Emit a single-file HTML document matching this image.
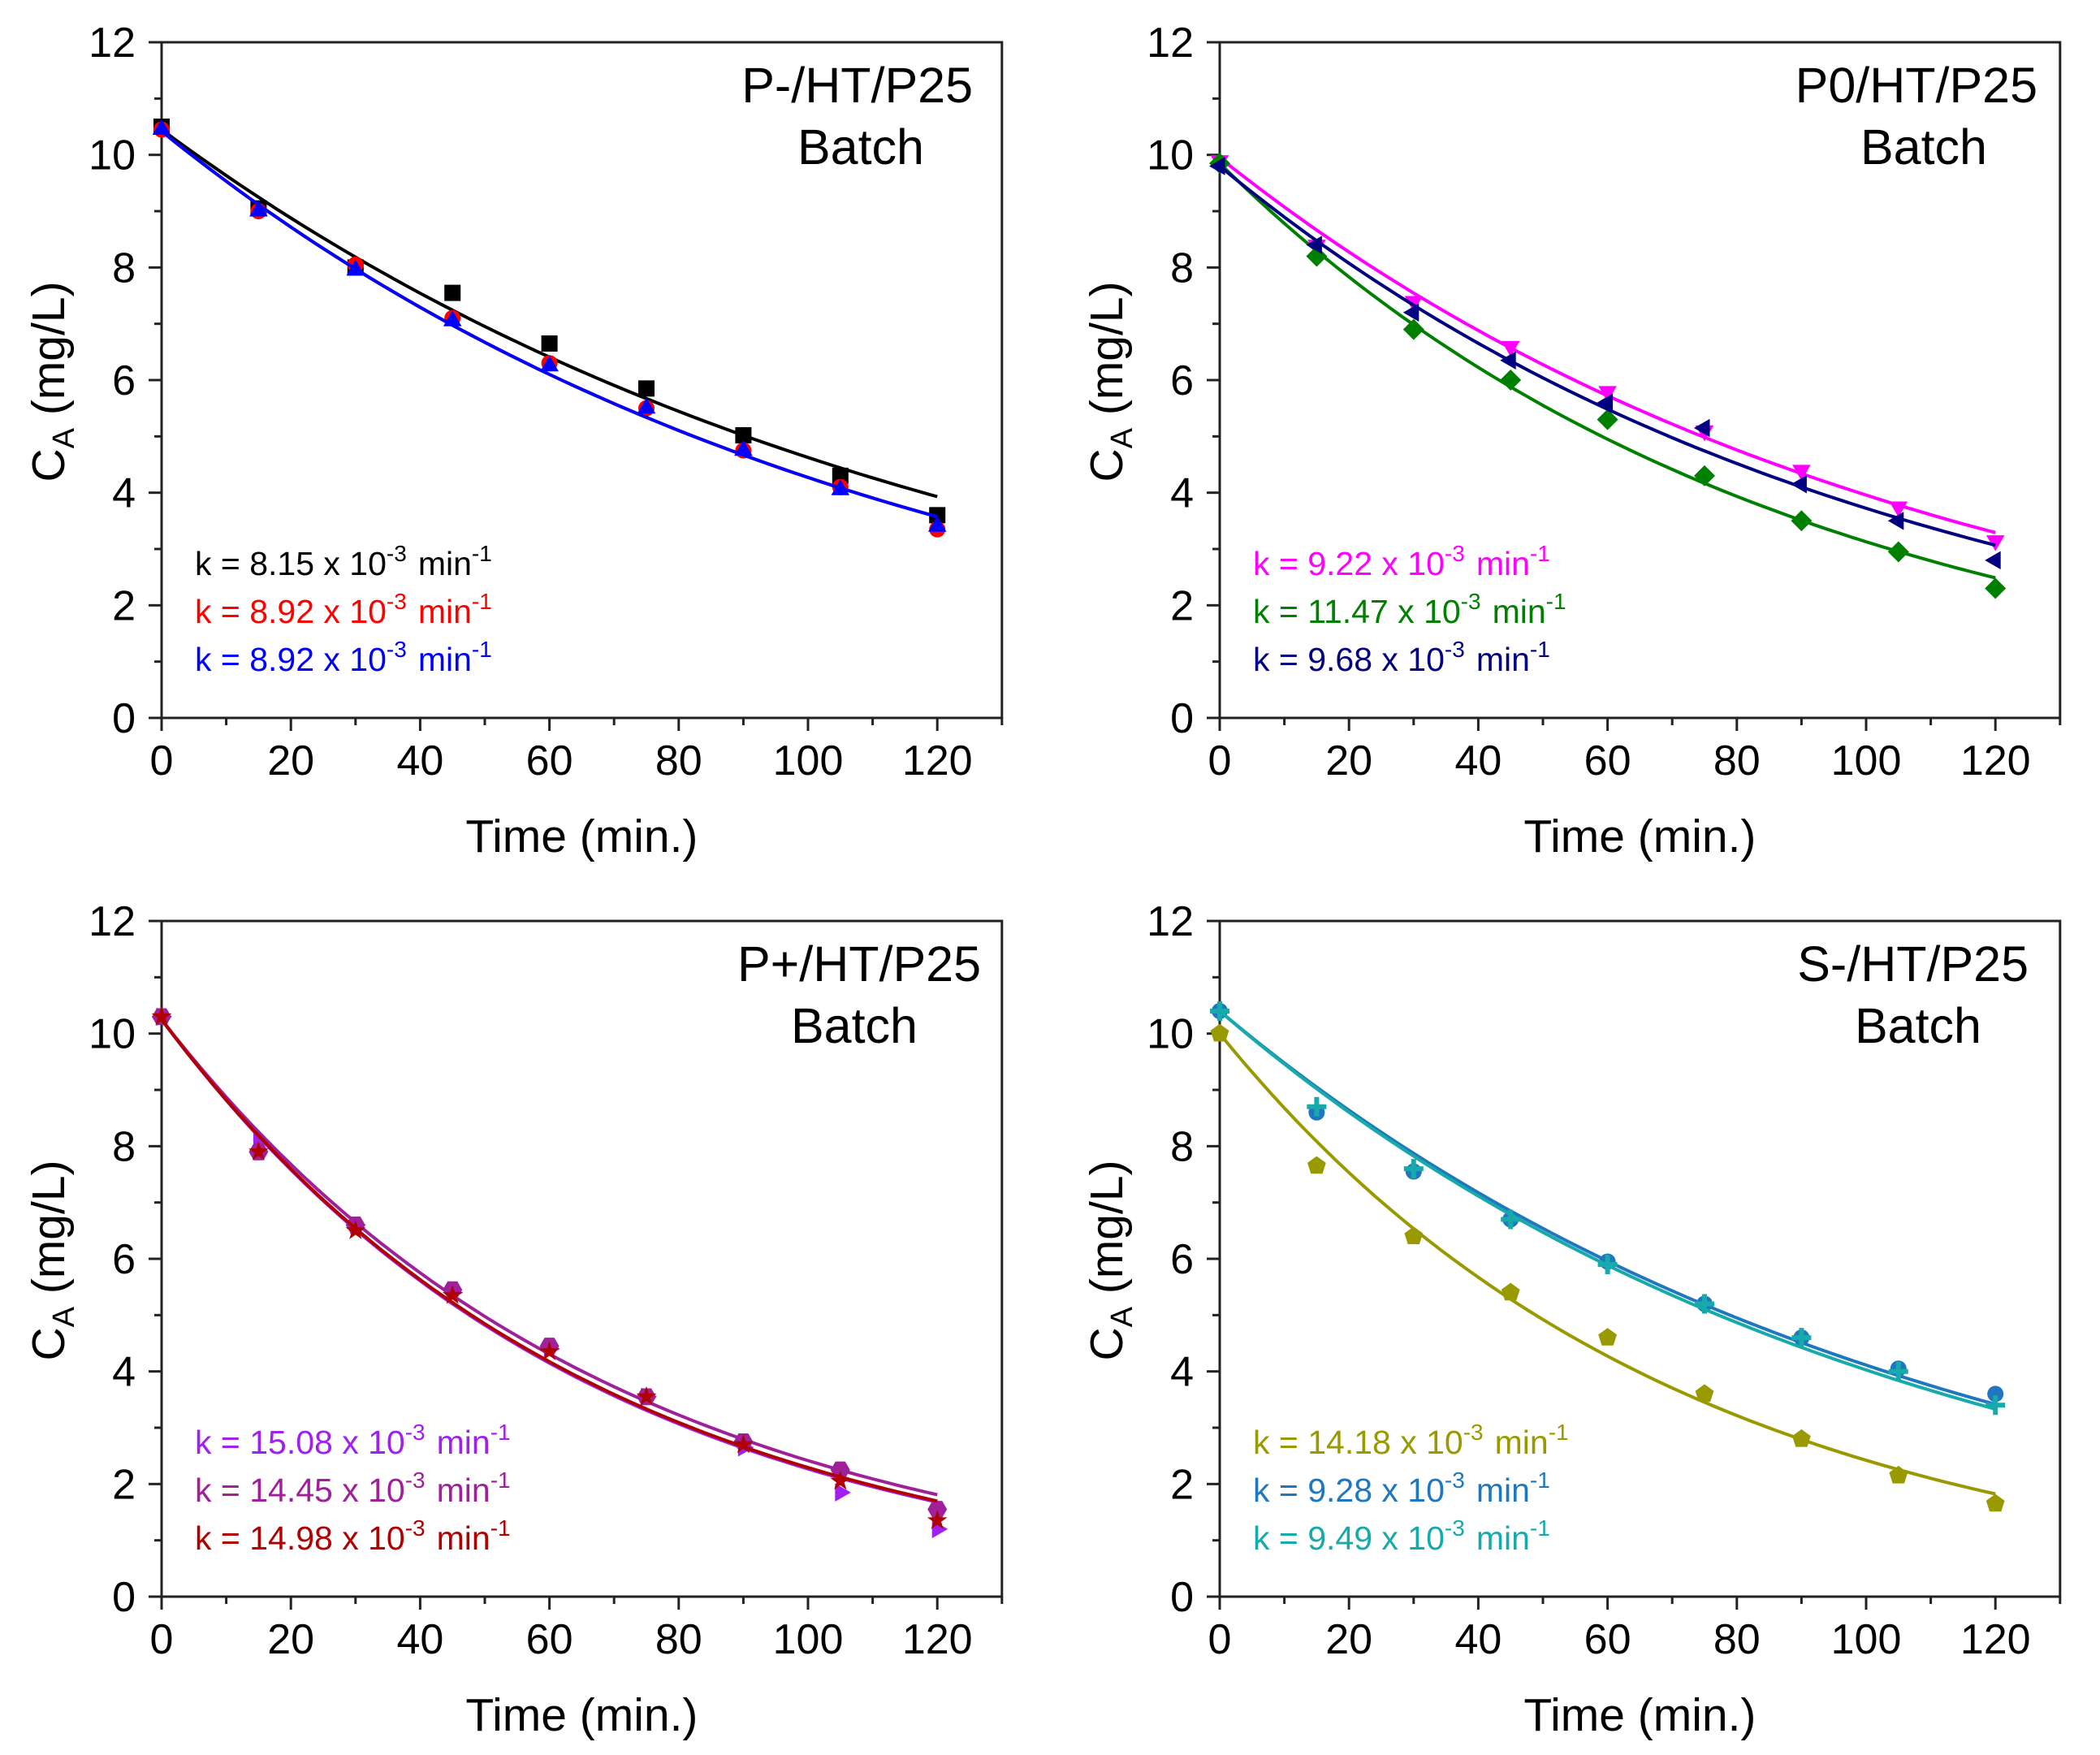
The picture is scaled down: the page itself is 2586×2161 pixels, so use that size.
<!DOCTYPE html>
<html><head><meta charset="utf-8"><style>
html,body{margin:0;padding:0;background:#fff;}
svg{display:block;font-family:"Liberation Sans",Arial,sans-serif;}
</style></head><body>
<svg id="fig" width="2586" height="2161" viewBox="0 0 2586 2161" xmlns="http://www.w3.org/2000/svg"></svg>
<script>
// ---- data ----
const times = [0,15,30,45,60,75,90,105,120];
const xTicks = [0,20,40,60,80,100,120];
const yTicks = [0,2,4,6,8,10,12];
const panelTitles = ["P-/HT/P25","P0/HT/P25","P+/HT/P25","S-/HT/P25"];
// panel A (P-)
const a_black = [10.5,9.05,8.0,7.55,6.65,5.85,5.02,4.3,3.6];
const a_red   = [10.45,9.0,8.05,7.1,6.3,5.5,4.75,4.1,3.35];
const a_blue  = [10.45,9.0,7.95,7.05,6.25,5.5,4.75,4.05,3.4];
const a_k  = [8.15,8.92,8.92];
const a_c0 = [10.45,10.42,10.42];
// panel B (P0)
const b_magenta = [9.9,8.4,7.4,6.6,5.8,5.1,4.4,3.75,3.15];
const b_green   = [9.85,8.2,6.9,6.0,5.3,4.3,3.5,2.95,2.3];
const b_navy    = [9.8,8.4,7.2,6.35,5.6,5.15,4.15,3.5,2.8];
const b_k  = [9.22,11.47,9.68];
const b_c0 = [9.95,9.85,9.8];
// panel C (P+)
const c_violet = [10.3,8.1,6.6,5.4,4.4,3.55,2.65,1.85,1.2];
const c_purple = [10.3,7.9,6.6,5.45,4.45,3.55,2.75,2.25,1.55];
const c_darkred= [10.3,7.9,6.5,5.35,4.35,3.55,2.7,2.05,1.35];
const c_k  = [15.08,14.45,14.98];
const c_c0 = [10.25,10.25,10.25];
// panel D (S-)
const d_olive = [10.0,7.65,6.4,5.4,4.6,3.6,2.8,2.15,1.65];
const d_blue  = [10.4,8.6,7.55,6.7,5.95,5.2,4.6,4.05,3.6];
const d_teal  = [10.4,8.7,7.6,6.7,5.9,5.2,4.6,4.0,3.4];
const d_k  = [14.18,9.28,9.49];
const d_c0 = [10.0,10.4,10.4];

const NS="http://www.w3.org/2000/svg";
const svg=document.getElementById('fig');
function mk(tag,attrs,parent){const e=document.createElementNS(NS,tag);for(const k in attrs)e.setAttribute(k,attrs[k]);(parent||svg).appendChild(e);return e;}

const panels=[
 {x0:199,y0:884,title:panelTitles[0],tr:1198,bo:60,series:[
   {d:a_black,k:a_k[0],c0:a_c0[0],col:"#000000",m:"square"},
   {d:a_red,k:a_k[1],c0:a_c0[1],col:"#ff0000",m:"circle"},
   {d:a_blue,k:a_k[2],c0:a_c0[2],col:"#0000ff",m:"tri-up"}]},
 {x0:1502,y0:884,title:panelTitles[1],tr:2509,bo:62,series:[
   {d:b_magenta,k:b_k[0],c0:b_c0[0],col:"#ff00ff",m:"tri-down"},
   {d:b_green,k:b_k[1],c0:b_c0[1],col:"#008000",m:"diamond"},
   {d:b_navy,k:b_k[2],c0:b_c0[2],col:"#000080",m:"tri-left"}]},
 {x0:199,y0:1966,title:panelTitles[2],tr:1208,bo:78,series:[
   {d:c_violet,k:c_k[0],c0:c_c0[0],col:"#a020f0",m:"tri-right"},
   {d:c_purple,k:c_k[1],c0:c_c0[1],col:"#a0209a",m:"hexagon"},
   {d:c_darkred,k:c_k[2],c0:c_c0[2],col:"#b00000",m:"star"}]},
 {x0:1502,y0:1966,title:panelTitles[3],tr:2498,bo:58,series:[
   {d:d_olive,k:d_k[0],c0:d_c0[0],col:"#999900",m:"pentagon"},
   {d:d_blue,k:d_k[1],c0:d_c0[1],col:"#1f77c0",m:"circle"},
   {d:d_teal,k:d_k[2],c0:d_c0[2],col:"#17aaaa",m:"plus"}]}
];
const PX=7.96, PY=69.33;

function poly(n,r,rot){const p=[];for(let i=0;i<n;i++){const a=rot+i*2*Math.PI/n;p.push([r*Math.cos(a),r*Math.sin(a)]);}return p;}
function marker(g,type,cx,cy,col){
  let pts;const r=12;
  if(type==="circle"){const c=mk('circle',{cx:cx,cy:cy,r:10,fill:col},g);return;}
  if(type==="square")pts=[[-10,-10],[10,-10],[10,10],[-10,10]];
  else if(type==="tri-up")pts=poly(3,r+1,-Math.PI/2);
  else if(type==="tri-down")pts=poly(3,r+1,Math.PI/2);
  else if(type==="tri-left")pts=poly(3,r+1,Math.PI);
  else if(type==="tri-right")pts=poly(3,r+1,0);
  else if(type==="diamond")pts=poly(4,r+1,0);
  else if(type==="hexagon")pts=poly(6,r,0);
  else if(type==="pentagon")pts=poly(5,r,-Math.PI/2);
  else if(type==="star"){pts=[];for(let i=0;i<10;i++){const a=-Math.PI/2+i*Math.PI/5;const rr=i%2?5:r+1;pts.push([rr*Math.cos(a),rr*Math.sin(a)]);}}
  else if(type==="plus"){pts=[[-3,-12],[3,-12],[3,-3],[12,-3],[12,3],[3,3],[3,12],[-3,12],[-3,3],[-12,3],[-12,-3],[-3,-3]];}
  const p=mk('polygon',{points:pts.map(q=>(cx+q[0]).toFixed(1)+","+(cy+q[1]).toFixed(1)).join(" "),fill:col},g);
  
  
}

panels.forEach((P,pi)=>{
  const g=mk('g',{});
  
  
  const sx=v=>P.x0+v*PX, sy=v=>P.y0-v*PY;
  const L=sx(0),R=sx(130),T=sy(12),B=sy(0);
  const fr=mk('rect',{x:L,y:T,width:R-L,height:B-T,fill:"none",stroke:"#222",'stroke-width':3},g);
  
  
  for(let v=0;v<=130;v+=10){const major=(v%20===0&&v<=120);mk('line',{x1:sx(v),x2:sx(v),y1:B,y2:B+(major?16:9),stroke:"#222",'stroke-width':3},g);}
  xTicks.forEach(v=>{const t=mk('text',{x:sx(v),y:B+70,'font-size':52,'text-anchor':'middle',fill:'#000'},g);t.textContent=v;});
  for(let v=0;v<=12;v+=1){const major=v%2===0;mk('line',{x1:L,x2:L-(major?16:9),y1:sy(v),y2:sy(v),stroke:"#222",'stroke-width':3},g);}
  yTicks.forEach(v=>{const t=mk('text',{x:L-32,y:sy(v)+18,'font-size':52,'text-anchor':'end',fill:'#000'},g);t.textContent=v;});
  const xt=mk('text',{x:(L+R)/2,y:B+165,'font-size':57,'text-anchor':'middle',fill:'#000'},g);
  xt.textContent="Time (min.)";
  
  
  const yc=(T+B)/2+2, yx=L-120;
  const yt=mk('text',{x:yx,y:yc,'font-size':57,'text-anchor':'middle',fill:'#000',transform:`rotate(-90 ${yx} ${yc})`},g);
  
  
  yt.innerHTML='C<tspan font-size="38" dy="12">A</tspan><tspan dy="-12"> (mg/L)</tspan>';
  const t1=mk('text',{x:P.tr,y:T+74,'font-size':61,'text-anchor':'end',fill:'#000'},g);
  t1.textContent=P.title;
  
  
  const t2=mk('text',{x:P.tr-P.bo,y:T+150,'font-size':61,'text-anchor':'end',fill:'#000'},g);
  t2.textContent="Batch";
  
  
  P.series.forEach((s,si)=>{
    let d="";
    for(let t=0;t<=120;t+=2){const c=s.c0*Math.exp(-s.k/1000*t);d+=(t?"L":"M")+sx(t).toFixed(1)+","+sy(c).toFixed(1);}
    const pl=mk('path',{d:d,fill:'none',stroke:s.col,'stroke-width':4},g);
    
    
    s.d.forEach((v,i)=>marker(g,s.m,sx(times[i]),sy(v),s.col));
    const kt=mk('text',{x:L+41,y:B-176+si*59,'font-size':41,fill:s.col},g);
    
    
    kt.innerHTML='k = '+s.k.toFixed(2)+' x 10<tspan font-size="28" dy="-17">-3</tspan><tspan dy="17" dx="14">min</tspan><tspan font-size="28" dy="-17">-1</tspan>';
  });
});
</script>
</body></html>
